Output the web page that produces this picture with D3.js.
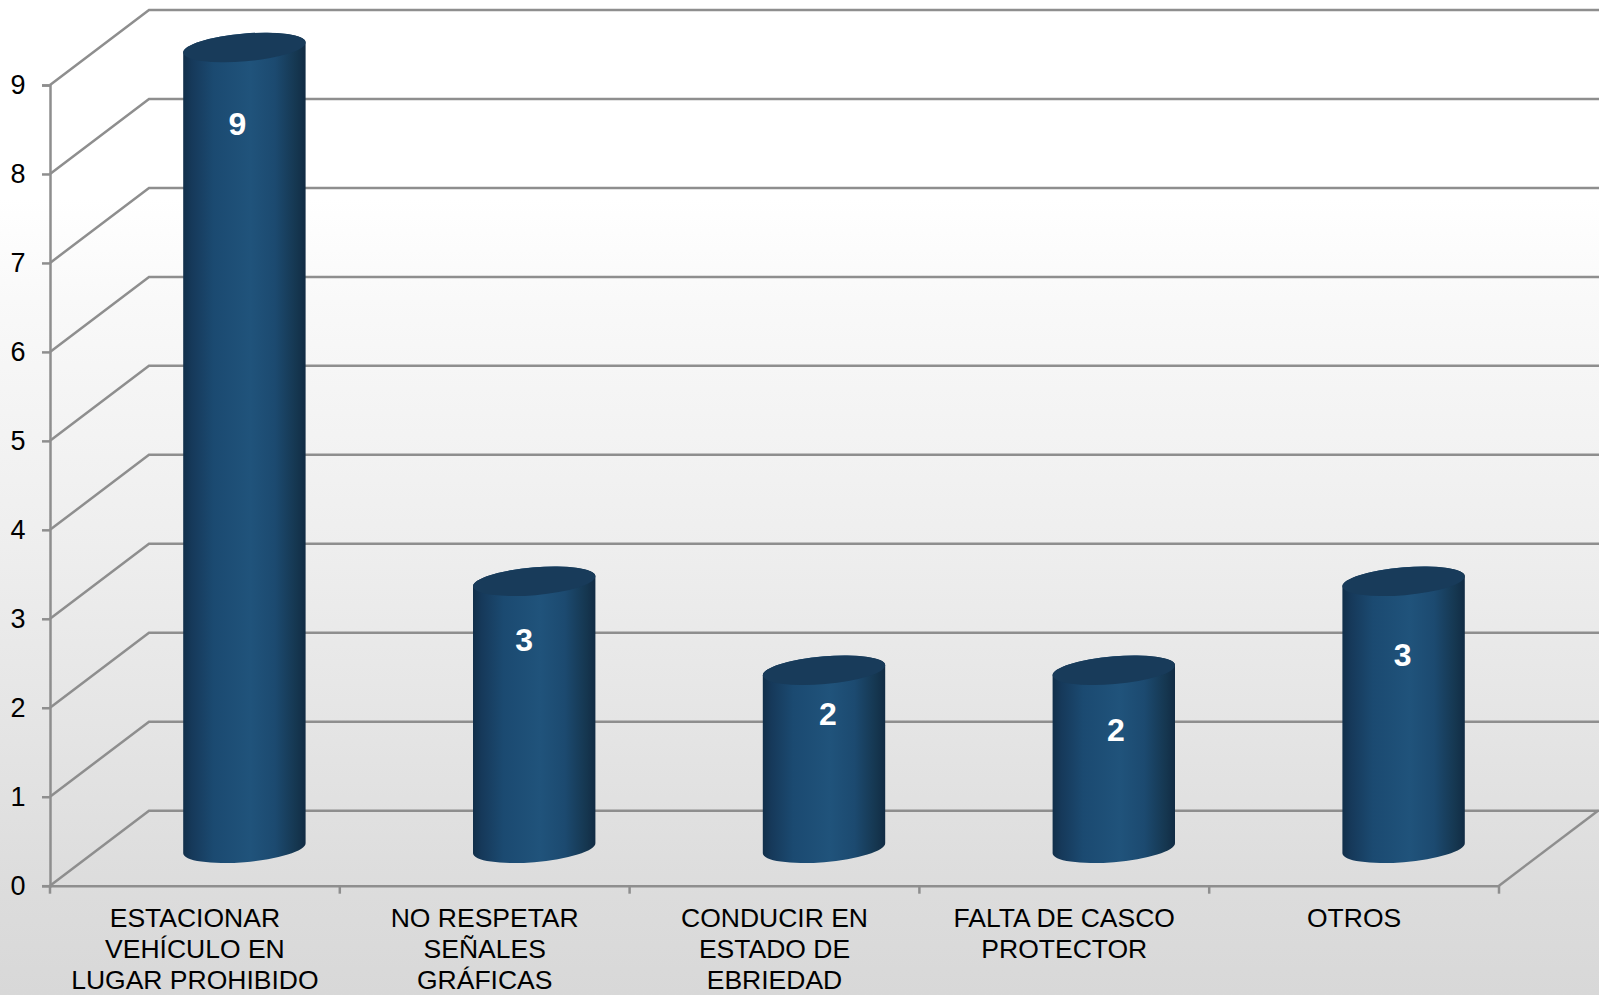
<!DOCTYPE html>
<html><head><meta charset="utf-8">
<script src="https://cdn.jsdelivr.net/npm/d3@7"></script>
<style>html,body{margin:0;padding:0;background:#fff;overflow:hidden}svg{display:block}text{font-family:"Liberation Sans",Arial,sans-serif}</style>
</head><body><svg id="c" width="1599" height="995"></svg>
<script>
const categories = ["ESTACIONAR VEHÍCULO EN LUGAR PROHIBIDO","NO RESPETAR SEÑALES GRÁFICAS","CONDUCIR EN ESTADO DE EBRIEDAD","FALTA DE CASCO PROTECTOR","OTROS"];
const categoryLines = [["ESTACIONAR","VEHÍCULO EN","LUGAR PROHIBIDO"],["NO RESPETAR","SEÑALES","GRÁFICAS"],["CONDUCIR EN","ESTADO DE","EBRIEDAD"],["FALTA DE CASCO","PROTECTOR"],["OTROS"]];
const values = [9,3,2,2,3];
const yTicks = [0,1,2,3,4,5,6,7,8,9];
// hand-placed data-label offsets from the cylinder's top centre
const labelDx = [-7,-10,4,2,-1];
const labelDy = [76,58,43,59,73];

const W=1599,H=995, dx=99, dy=-75;
const svg=d3.select("#c");
const x=d3.scaleBand().domain(categories).range([50,1499]);
const y=d3.scaleLinear().domain([0,9]).range([885.7,85]);

const defs=svg.append("defs");
const bg=defs.append("linearGradient").attr("id","bg").attr("x1",0).attr("y1",0).attr("x2",0).attr("y2",1);
[[0,"#ffffff"],[0.2,"#ffffff"],[0.3,"#f9f9f9"],[0.55,"#eeeeee"],[0.9,"#dcdcdc"],[1,"#d8d8d8"]].forEach(s=>bg.append("stop").attr("offset",s[0]).attr("stop-color",s[1]));
const bar=defs.append("linearGradient").attr("id","bar").attr("x1",0).attr("y1",0).attr("x2",1).attr("y2",0);
[[0,"#112f4a"],[0.07,"#16395a"],[0.25,"#1b4a71"],[0.55,"#20537b"],[0.75,"#1c4a70"],[0.93,"#15364f"],[1,"#112b44"]].forEach(s=>bar.append("stop").attr("offset",s[0]).attr("stop-color",s[1]));

svg.append("rect").attr("width",W).attr("height",H).attr("fill","url(#bg)");

const gridCol="#8e8e8e", sw=2.5;
const grid=svg.append("g").attr("fill","none").attr("stroke",gridCol).attr("stroke-width",sw);
grid.selectAll("path").data(yTicks).join("path")
  .attr("d",v=>{const Y=y(v);const p=d3.path();p.moveTo(50,Y);p.lineTo(50+dx,Y+dy);p.lineTo(W,Y+dy);return p.toString();});
grid.append("path").attr("d",()=>{const p=d3.path();p.moveTo(1499,y(0));p.lineTo(1499+dx,y(0)+dy);return p.toString();});

const axY=svg.append("g").attr("transform","translate(50,0)").call(d3.axisLeft(y).tickValues(yTicks).tickSize(8).tickPadding(14).tickFormat(d3.format("d")));
axY.select(".domain").attr("stroke",gridCol).attr("stroke-width",sw);
axY.selectAll("line").attr("stroke",gridCol).attr("stroke-width",sw);
axY.selectAll("text").attr("font-size",27).attr("fill","#000").attr("font-family",'"Liberation Sans",Arial,sans-serif').attr("text-anchor","middle").attr("x",-32);

const axX=svg.append("g").attr("transform",`translate(0,${y(0)})`).call(d3.axisBottom(x).tickValues([]).tickSizeOuter(0));
axX.select(".domain").attr("stroke",gridCol).attr("stroke-width",sw);
const edges=[...categories.map(c=>x(c)),x.range()[1]];
axX.selectAll("line.edge").data(edges).join("line").attr("class","edge").attr("x1",d=>d).attr("x2",d=>d).attr("y1",0).attr("y2",8).attr("stroke",gridCol).attr("stroke-width",sw);

const catG=svg.append("g").selectAll("text").data(categories).join("text")
  .attr("text-anchor","middle").attr("font-size",26.5).attr("fill","#000")
  .attr("x",c=>x(c)+x.bandwidth()/2);
catG.each(function(c,i){d3.select(this).selectAll("tspan").data(categoryLines[i]).join("tspan")
  .attr("x",x(c)+x.bandwidth()/2).attr("y",(l,j)=>926.7+j*30.9).text(l=>l);});

const rx=61.4, ry=13.9, rot=-4.9, hw=61.2, off=5;
const bars=svg.append("g").selectAll("g").data(categories).join("g");
bars.each(function(c,i){
  const g=d3.select(this);
  const cx=x(c)+x.bandwidth()/2+dx/2;
  const top=y(values[i])+dy/2, base=y(0)+dy/2;
  g.append("path").attr("fill","url(#bar)")
   .attr("d",`M${cx-hw},${top+off}L${cx-hw},${base+off}A${rx},${ry} ${rot} 0 0 ${cx+hw},${base-off}L${cx+hw},${top-off}A${rx},${ry} ${rot} 0 0 ${cx-hw},${top+off}Z`);
  g.append("ellipse").attr("cx",cx).attr("cy",top).attr("rx",rx).attr("ry",ry)
   .attr("transform",`rotate(${rot} ${cx} ${top})`).attr("fill","#183b5a");
  g.append("text").attr("x",cx+labelDx[i]).attr("y",top+labelDy[i]).attr("dy","0.36em")
   .attr("text-anchor","middle").attr("font-size",32).attr("font-weight","bold").attr("fill","#fff").text(values[i]);
});
</script>
</body></html>
